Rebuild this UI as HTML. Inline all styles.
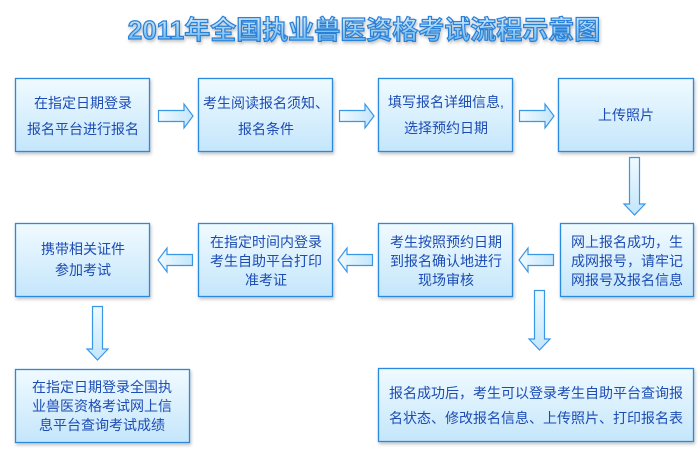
<!DOCTYPE html>
<html><head><meta charset="utf-8"><style>
html,body{margin:0;padding:0;background:#fff;}
svg{display:block;}
text{font-family:"Liberation Sans","Noto Sans CJK SC",sans-serif;}
.t{font-size:14px;fill:#1c4cb4;}
</style></head><body>
<svg width="700" height="451" viewBox="0 0 700 451" xmlns="http://www.w3.org/2000/svg">
<defs>
<linearGradient id="g" x1="0" y1="0" x2="0" y2="1">
<stop offset="0" stop-color="#f0faff"/><stop offset="1" stop-color="#c4e6fb"/>
</linearGradient>
<linearGradient id="gh" x1="0" y1="0" x2="1" y2="0">
<stop offset="0" stop-color="#f0faff"/><stop offset="1" stop-color="#c4e6fb"/>
</linearGradient>
<linearGradient id="tg" x1="0" y1="0" x2="0" y2="1">
<stop offset="0" stop-color="#d8f0ff"/><stop offset="1" stop-color="#5ab0f0"/>
</linearGradient>
<filter id="sh" x="-10%" y="-10%" width="130%" height="140%"><feDropShadow dx="1" dy="2" stdDeviation="1.5" flood-color="#000" flood-opacity="0.25"/></filter>
</defs>
<text x="364" y="39" text-anchor="middle" font-size="26" font-weight="bold" fill="url(#tg)" stroke="#2a7fd6" stroke-width="1.2" filter="url(#sh)">2011年全国执业兽医资格考试流程示意图</text>

<g fill="url(#g)" stroke="#2a8ae0" stroke-width="1.3" filter="url(#sh)">
<rect x="15.5" y="78.5" width="134" height="73"/>
<rect x="198.5" y="78.5" width="134" height="73"/>
<rect x="378.5" y="78.5" width="134" height="73"/>
<rect x="558.5" y="78.5" width="135" height="73"/>
<rect x="15.5" y="223.5" width="134" height="73"/>
<rect x="198.5" y="223.5" width="134" height="73"/>
<rect x="378.5" y="223.5" width="134" height="73"/>
<rect x="560.5" y="223.5" width="133" height="73"/>
<rect x="15.5" y="369.5" width="174" height="73"/>
<rect x="378.5" y="368.5" width="315" height="73"/>
</g>

<g fill="url(#gh)" stroke="#3a96e6" stroke-width="1.2">
<path d="M158.5 110.5 H184 V104 L193 116 L184 128 V121.5 H158.5 Z"/>
<path d="M339.5 110.5 H365 V104 L374 116 L365 128 V121.5 H339.5 Z"/>
<path d="M519.5 110.5 H545 V104 L554 116 L545 128 V121.5 H519.5 Z"/>
<path d="M553.5 254.5 H528 V248 L519 260 L528 272 V265.5 H553.5 Z"/>
<path d="M372.5 254.5 H347 V248 L338 260 L347 272 V265.5 H372.5 Z"/>
<path d="M192.5 254.5 H167 V248 L158 260 L167 272 V265.5 H192.5 Z"/>
</g>
<g fill="url(#g)" stroke="#3a96e6" stroke-width="1.2">
<path d="M629.5 157.5 V204 H624 L634.5 215 L645 204 H639.5 V157.5 Z"/>
<path d="M92.5 306.5 V349 H87 L97.5 360 L108 349 H102.5 V306.5 Z"/>
<path d="M534.5 290.5 V339 H529 L539.5 350 L550 339 H544.5 V290.5 Z"/>
</g>

<g class="t" text-anchor="middle">
<text x="83" y="108">在指定日期登录</text>
<text x="83" y="134">报名平台进行报名</text>
<text x="266" y="108">考生阅读报名须知、</text>
<text x="266" y="134">报名条件</text>
<text x="446" y="107">填写报名详细信息,</text>
<text x="446" y="133">选择预约日期</text>
<text x="626" y="120">上传照片</text>
<text x="83" y="254">携带相关证件</text>
<text x="83" y="275">参加考试</text>
<text x="266" y="247">在指定时间内登录</text>
<text x="266" y="266">考生自助平台打印</text>
<text x="266" y="285">准考证</text>
<text x="446" y="247">考生按照预约日期</text>
<text x="446" y="266">到报名确认地进行</text>
<text x="446" y="285">现场审核</text>
<text x="627" y="247">网上报名成功，生</text>
<text x="627" y="266">成网报号，请牢记</text>
<text x="627" y="285">网报号及报名信息</text>
<text x="102" y="392">在指定日期登录全国执</text>
<text x="102" y="411">业兽医资格考试网上信</text>
<text x="102" y="430">息平台查询考试成绩</text>
<text x="536" y="398">报名成功后，考生可以登录考生自助平台查询报</text>
<text x="536" y="423">名状态、修改报名信息、上传照片、打印报名表</text>
</g>
</svg>
</body></html>
